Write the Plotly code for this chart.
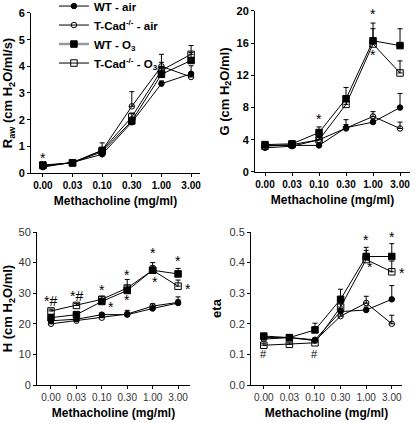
import plotly.graph_objects as go

doses = ["0.00", "0.03", "0.10", "0.30", "1.00", "3.00"]
series_names = ["WT - air", "T-Cad<sup>-/-</sup> - air", "WT - O<sub>3</sub>", "T-Cad<sup>-/-</sup> - O<sub>3</sub>"]

# Raw (cm H2O/ml/s)
raw_wt_air = [0.22, 0.40, 0.70, 1.90, 3.35, 3.72]
raw_ko_air = [0.25, 0.40, 0.85, 2.50, 4.00, 3.60]
raw_wt_o3 = [0.30, 0.38, 0.80, 1.95, 3.70, 4.22]
raw_ko_o3 = [0.28, 0.38, 0.85, 2.10, 3.85, 4.45]
raw_err_wt_air = [0.03, 0.03, 0.05, 0.10, 0.10, 0.30]
raw_err_ko_air = [0.03, 0.03, 0.10, 0.55, 0.45, 0.10]
raw_err_wt_o3 = [0.03, 0.03, 0.10, 0.10, 0.25, 0.30]
raw_err_ko_o3 = [0.03, 0.03, 0.28, 0.15, 0.30, 0.33]

# G (cm H2O/ml)
g_wt_air = [3.3, 3.3, 3.3, 5.5, 6.2, 8.0]
g_ko_air = [3.0, 3.2, 4.0, 5.4, 6.9, 5.4]
g_wt_o3 = [3.4, 3.5, 4.9, 9.1, 16.3, 15.7]
g_ko_o3 = [3.2, 3.4, 4.0, 8.4, 15.9, 12.3]
g_err_wt_air = [0.2, 0.2, 0.3, 0.4, 0.4, 1.75]
g_err_ko_air = [0.2, 0.2, 0.3, 1.1, 0.6, 0.8]
g_err_wt_o3 = [0.2, 0.2, 0.7, 1.4, 2.2, 2.1]
g_err_ko_o3 = [0.2, 0.2, 0.3, 1.0, 1.9, 1.5]

# H (cm H2O/ml)
h_wt_air = [21.0, 21.5, 23.0, 23.0, 25.0, 26.8]
h_ko_air = [20.0, 21.0, 22.0, 23.2, 25.8, 27.0]
h_wt_o3 = [22.0, 23.0, 27.3, 30.9, 37.5, 36.3]
h_ko_o3 = [24.2, 26.0, 28.0, 31.7, 37.5, 32.3]
h_err_wt_air = [0.5, 0.5, 0.5, 0.8, 0.6, 1.0]
h_err_ko_air = [0.5, 0.5, 0.6, 1.2, 0.7, 1.8]
h_err_wt_o3 = [0.6, 0.6, 1.0, 1.5, 2.5, 1.8]
h_err_ko_o3 = [0.6, 0.6, 1.0, 2.8, 1.5, 2.0]

# eta
eta_wt_air = [0.155, 0.155, 0.148, 0.240, 0.245, 0.280]
eta_ko_air = [0.150, 0.155, 0.145, 0.225, 0.268, 0.200]
eta_wt_o3 = [0.160, 0.155, 0.180, 0.280, 0.420, 0.420]
eta_ko_o3 = [0.130, 0.133, 0.138, 0.255, 0.410, 0.370]
eta_err_wt_air = [0.005, 0.005, 0.005, 0.010, 0.010, 0.045]
eta_err_ko_air = [0.005, 0.005, 0.005, 0.010, 0.022, 0.028]
eta_err_wt_o3 = [0.005, 0.008, 0.022, 0.033, 0.030, 0.042]
eta_err_ko_o3 = [0.005, 0.005, 0.005, 0.010, 0.030, 0.035]

# significance markers: (dose index, value, text)
raw_marks = [(0, 0.55, "*")]
g_marks = [(2, 6.6, "*"), (4, 19.6, "*"), (4, 14.5, "*"), (5.42, 15.5, "*"), (5.42, 12.0, "*")]
h_marks = [(0, 27.5, "*#"), (1, 29.0, "*#"), (2, 31.0, "*"), (2.35, 25.5, "*"), (3, 36.0, "*"),
           (3, 27.8, "*"), (4, 43.0, "*"), (4.1, 33.8, "*"), (5, 40.5, "*"), (5.4, 31.5, "*")]
eta_marks = [(0, 0.10, "#"), (2, 0.10, "#"), (4, 0.475, "*"), (4.15, 0.385, "*"), (5, 0.485, "*"), (5.4, 0.365, "*")]

FONT = "Liberation Sans, Arial, sans-serif"
xs = list(range(len(doses)))

styles = [
    dict(symbol="circle", color="black", line=dict(color="black", width=1)),
    dict(symbol="circle-open", color="black", line=dict(color="black", width=1)),
    dict(symbol="square", color="black", line=dict(color="black", width=1)),
    dict(symbol="square-open", color="black", line=dict(color="black", width=1)),
]
msizes = [5.5, 5.5, 6.5, 6.5]

panels = [
    ("x", "y", [raw_wt_air, raw_ko_air, raw_wt_o3, raw_ko_o3],
     [raw_err_wt_air, raw_err_ko_air, raw_err_wt_o3, raw_err_ko_o3], raw_marks),
    ("x2", "y2", [g_wt_air, g_ko_air, g_wt_o3, g_ko_o3],
     [g_err_wt_air, g_err_ko_air, g_err_wt_o3, g_err_ko_o3], g_marks),
    ("x3", "y3", [h_wt_air, h_ko_air, h_wt_o3, h_ko_o3],
     [h_err_wt_air, h_err_ko_air, h_err_wt_o3, h_err_ko_o3], h_marks),
    ("x4", "y4", [eta_wt_air, eta_ko_air, eta_wt_o3, eta_ko_o3],
     [eta_err_wt_air, eta_err_ko_air, eta_err_wt_o3, eta_err_ko_o3], eta_marks),
]

fig = go.Figure()
annotations = []
for xa, ya, vals, errs, marks in panels:
    for i in [3, 2, 1, 0]:
        fig.add_trace(go.Scatter(
            x=xs, y=vals[i], xaxis=xa, yaxis=ya, mode="lines+markers",
            line=dict(color="black", width=1),
            marker=dict(size=msizes[i], **styles[i]),
            error_y=dict(type="data", symmetric=False, array=errs[i],
                         arrayminus=[0] * len(errs[i]), color="black",
                         thickness=1, width=2.5),
            showlegend=False, cliponaxis=False))
    for mx, my, t in marks:
        annotations.append(dict(x=mx, y=my, xref=xa, yref=ya, text=t, showarrow=False,
                                font=dict(family=FONT, size=14 if "*" in t else 11, color="black")))

# legend entries (dummy traces)
leg_line_colors = ["black", "black", "#999999", "black"]
leg_line_widths = [1, 1, 2.5, 1]
for i, name in enumerate(series_names):
    fig.add_trace(go.Scatter(
        x=[None], y=[None], mode="lines+markers", name=name,
        line=dict(color=leg_line_colors[i], width=leg_line_widths[i]),
        marker=dict(size=msizes[i], **styles[i]), showlegend=True))

def xaxis(domain, rng, bold):
    return dict(domain=domain, range=rng, tickmode="array", tickvals=xs, ticktext=doses,
                showline=True, linecolor="black", linewidth=1, ticks="outside", ticklen=3,
                tickcolor="black", showgrid=False, zeroline=False, automargin=False,
                tickfont=dict(family=FONT, size=10, color="black" if bold else "#333333",
                              weight="bold" if bold else "normal"),
                title=dict(text="Methacholine (mg/ml)", standoff=6,
                           font=dict(family=FONT, size=12, color="black", weight="bold")))

def yaxis(domain, rng, dtick, title, bold, fmt=None):
    d = dict(domain=domain, range=rng, dtick=dtick, showline=True, linecolor="black", linewidth=1,
             ticks="outside", ticklen=3, tickcolor="black", showgrid=False, zeroline=False,
             automargin=False,
             tickfont=dict(family=FONT, size=11, color="black" if bold else "#333333",
                           weight="bold" if bold else "normal"),
             title=dict(text=title, standoff=4,
                        font=dict(family=FONT, size=13, color="black", weight="bold")))
    if fmt:
        d["tickformat"] = fmt
    return d

fig.update_layout(
    width=415, height=423, margin=dict(l=0, r=0, t=0, b=0, autoexpand=False),
    paper_bgcolor="white", plot_bgcolor="white",
    xaxis=xaxis([0.0747, 0.4819], [-0.4, 5.3], True),
    yaxis=yaxis([0.5910, 0.9693], [0, 6], 1, "R<sub>aw</sub> (cm H<sub>2</sub>O/ml/s)", True),
    xaxis2=dict(xaxis([0.6145, 0.9880], [-0.37, 5.37], True), anchor="y2"),
    yaxis2=dict(yaxis([0.5934, 0.9740], [0, 20], 4, "G (cm H<sub>2</sub>O/ml)", True), anchor="x2"),
    xaxis3=dict(xaxis([0.0892, 0.4578], [-0.55, 5.47], False), anchor="y3"),
    yaxis3=dict(yaxis([0.0898, 0.4515], [0, 50], 10, "H (cm H<sub>2</sub>O/ml)", False), anchor="x3"),
    xaxis4=dict(xaxis([0.6048, 0.9687], [-0.5, 5.4], False), anchor="y4"),
    yaxis4=dict(yaxis([0.0898, 0.4515], [0, 0.5], 0.1, "eta", False, ".1f"), anchor="x4"),
    legend=dict(x=0.13, y=1.02, xanchor="left", yanchor="top", bgcolor="rgba(0,0,0,0)",
                font=dict(family=FONT, size=11.5, color="black", weight="bold"),
                tracegroupgap=0, itemwidth=30),
    annotations=annotations,
)

fig.write_html("out.html", config={"displayModeBar": False},
               post_script="document.body.style.margin='0';document.body.style.overflow='hidden';")
